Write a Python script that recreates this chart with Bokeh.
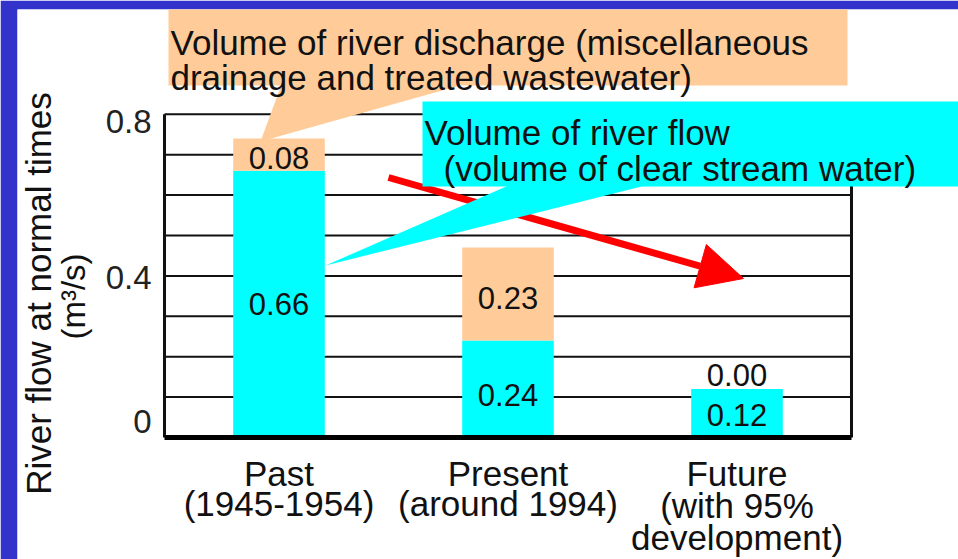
import math
from bokeh.plotting import figure
from bokeh.models import Arrow, NormalHead
from bokeh.core.properties import value
from bokeh.embed import file_html
from bokeh.resources import INLINE

# ---------------- data ----------------
categories = ["Past\n(1945-1954)", "Present\n(around 1994)", "Future\n(with 95%\ndevelopment)"]
river_flow = [0.66, 0.24, 0.12]          # volume of clear stream water (cyan)
river_discharge = [0.08, 0.23, 0.00]     # drainage + treated wastewater (orange)
flow_labels = ["0.66", "0.24", "0.12"]
discharge_labels = ["0.08", "0.23", "0.00"]
y_ticks = [0, 0.4, 0.8]
y_tick_labels = ["0", "0.4", "0.8"]
grid_values = [0.1, 0.2, 0.3, 0.4, 0.5, 0.6, 0.7, 0.8]
y_title = "River flow at normal times"
y_unit = "(m\u00b3/s)"
discharge_note = ["Volume of river discharge (miscellaneous", "drainage and treated wastewater)"]
flow_note = ["Volume of river flow", "(volume of clear stream water)"]

# ---------------- style / layout ----------------
BLUE = "#3333cc"
CYAN = "#00ffff"
ORANGE = "#ffcc99"
RED = "#ff0000"
FONT = value("Liberation Sans")

W, H = 958, 559
BORDER_L, BORDER_T = 17, 9
# pixel mapping of data space
X0, SX = 278.5, 229.0     # x pixel of category 0, px per category
Y0, SY = 437.0, 404.0     # y pixel of value 0, px per unit value


def px(X):
    return (X - X0) / SX


def py(Y):
    return (Y0 - Y) / SY


x_range = (px(BORDER_L), px(W))
y_range = (py(H), py(BORDER_T))

p = figure(width=W, height=H, x_range=x_range, y_range=y_range,
           x_axis_type=None, y_axis_type=None, title=None,
           toolbar_location=None, output_backend="svg",
           min_border_left=BORDER_L, min_border_top=BORDER_T,
           min_border_right=0, min_border_bottom=0,
           background_fill_color="white", border_fill_color=BLUE,
           outline_line_color=None)

xi = list(range(len(categories)))
x_lo, x_hi = -0.5, len(categories) - 0.5
y_top = max(grid_values)

# grid lines
p.segment(x0=[x_lo] * len(grid_values), x1=[x_hi] * len(grid_values),
          y0=grid_values, y1=grid_values, line_color="#111111", line_width=2)
# frame sides
p.segment(x0=[x_lo, x_hi], x1=[x_lo, x_hi], y0=[0, 0], y1=[y_top, y_top],
          line_color="#111111", line_width=3)

# stacked bars
tops = [a + b for a, b in zip(river_flow, river_discharge)]
p.vbar(x=xi, width=0.4, bottom=0, top=river_flow, fill_color=CYAN, line_color=None)
p.vbar(x=xi, width=0.4, bottom=river_flow, top=tops, fill_color=ORANGE, line_color=None)

# bottom axis line
p.segment(x0=[x_lo], x1=[x_hi], y0=[0], y1=[0], line_color="#000000", line_width=5)

# y tick labels
p.text(x=[x_lo] * len(y_ticks), y=y_ticks, text=y_tick_labels,
       text_align="right", text_baseline="middle", x_offset=-13,
       y_offset=[-16, 2, 7], text_font=FONT, text_font_size="33px",
       text_color="#222222")

# bar value labels
flow_mid = [v / 2 for v in river_flow]
p.text(x=xi, y=flow_mid, text=flow_labels, text_align="center", text_baseline="middle",
       y_offset=[0, 6, 2], text_font=FONT, text_font_size="31px", text_color="#111111")
dis_y = [f + d / 2 for f, d in zip(river_flow, river_discharge)]
dis_off = [3, 4, -14]
p.text(x=xi, y=dis_y, text=discharge_labels, text_align="center", text_baseline="middle",
       y_offset=dis_off, text_font=FONT, text_font_size="31px", text_color="#111111")

# category labels (multi-line)
line_pitch = [30, 30, 32]
cx, cy, ct = [], [], []
for i, lab in enumerate(categories):
    for j, line in enumerate(lab.split("\n")):
        cx.append(i)
        cy.append(py(473 + j * line_pitch[i]))
        ct.append(line)
p.text(x=cx, y=cy, text=ct, text_align="center", text_baseline="alphabetic",
       text_font=FONT, text_font_size="35px", text_color="#111111")

# y axis title
p.text(x=[px(38)], y=[py(293)], text=[y_title], angle=math.pi / 2,
       text_align="center", text_baseline="middle",
       text_font=FONT, text_font_size="35px", text_color="#111111")
p.text(x=[px(73)], y=[py(296)], text=[y_unit], angle=math.pi / 2,
       text_align="center", text_baseline="middle",
       text_font=FONT, text_font_size="33px", text_color="#111111")

# red trend arrow
arrow = Arrow(x_start=px(388), y_start=py(177), x_end=px(743), y_end=py(278),
              line_color=RED, line_width=7,
              end=NormalHead(size=45, fill_color=RED, line_color=RED, line_width=1))
p.add_layout(arrow)

# orange callout (river discharge)
p.patch(x=[px(260), px(281), px(463)], y=[py(141), py(84), py(84)],
        fill_color=ORANGE, line_color=None, level="overlay")
p.quad(left=[px(168)], right=[px(847)], top=[py(9)], bottom=[py(85)],
       fill_color=ORANGE, line_color=None, level="overlay")
p.text(x=[px(170), px(170)], y=[py(42), py(77)], text=discharge_note,
       text_align="left", text_baseline="alphabetic", level="overlay",
       text_font=FONT, text_font_size="35px", text_color="#111111")

# cyan callout (river flow)
p.patch(x=[px(325), px(508), px(645)], y=[py(265), py(185), py(185)],
        fill_color=CYAN, line_color=None, level="overlay")
p.quad(left=[px(422)], right=[px(970)], top=[py(101)], bottom=[py(186)],
       fill_color=CYAN, line_color=None, level="overlay")
p.text(x=[px(424), px(443)], y=[py(132), py(168)], text=flow_note,
       text_align="left", text_baseline="alphabetic", level="overlay",
       text_font=FONT, text_font_size="35px", text_color="#111111")

open("out.html", "w").write(file_html(p, INLINE))
